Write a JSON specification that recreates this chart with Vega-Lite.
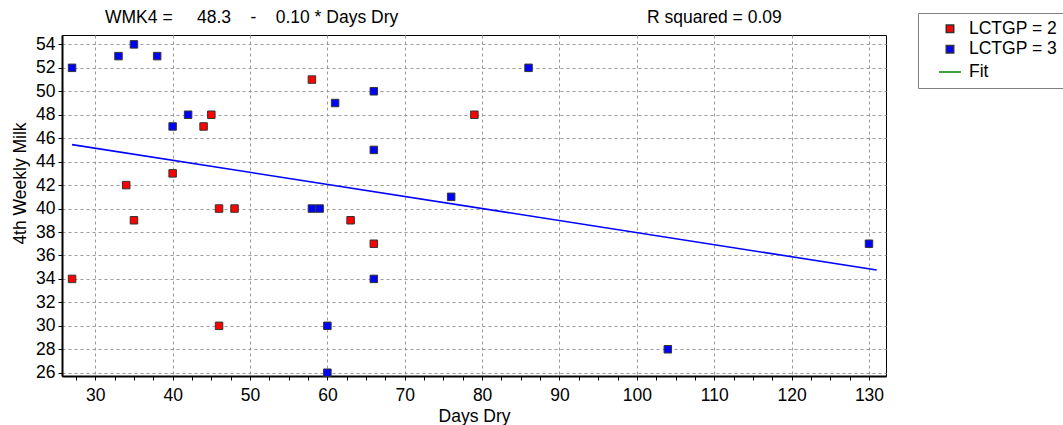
{
  "$schema": "https://vega.github.io/schema/vega-lite/v6.json",
  "autosize": "none",
  "width": 824,
  "height": 341,
  "padding": {"left": 62, "top": 35, "right": 177, "bottom": 49},
  "background": "white",
  "config": {
    "font": "Liberation Sans",
    "view": {"stroke": "black", "strokeWidth": 1},
    "axis": {
      "labelFont": "Liberation Sans",
      "titleFont": "Liberation Sans",
      "labelFontSize": 17.5,
      "titleFontSize": 17.5,
      "labelColor": "black",
      "titleColor": "black",
      "titleFontWeight": "normal",
      "domainColor": "black",
      "domainWidth": 2,
      "tickColor": "black",
      "tickSize": 4,
      "gridColor": "#9a9a9a",
      "gridDash": [3, 3],
      "gridWidth": 1,
      "labelOverlap": false,
      "tickCount": 60
    }
  },
  "datasets": {
    "cows": [
      {"days": 27, "milk": 34, "group": "LCTGP = 2"},
      {"days": 34, "milk": 42, "group": "LCTGP = 2"},
      {"days": 35, "milk": 39, "group": "LCTGP = 2"},
      {"days": 40, "milk": 43, "group": "LCTGP = 2"},
      {"days": 44, "milk": 47, "group": "LCTGP = 2"},
      {"days": 45, "milk": 48, "group": "LCTGP = 2"},
      {"days": 46, "milk": 40, "group": "LCTGP = 2"},
      {"days": 46, "milk": 30, "group": "LCTGP = 2"},
      {"days": 48, "milk": 40, "group": "LCTGP = 2"},
      {"days": 58, "milk": 51, "group": "LCTGP = 2"},
      {"days": 63, "milk": 39, "group": "LCTGP = 2"},
      {"days": 66, "milk": 37, "group": "LCTGP = 2"},
      {"days": 79, "milk": 48, "group": "LCTGP = 2"},
      {"days": 27, "milk": 52, "group": "LCTGP = 3"},
      {"days": 33, "milk": 53, "group": "LCTGP = 3"},
      {"days": 35, "milk": 54, "group": "LCTGP = 3"},
      {"days": 38, "milk": 53, "group": "LCTGP = 3"},
      {"days": 40, "milk": 47, "group": "LCTGP = 3"},
      {"days": 42, "milk": 48, "group": "LCTGP = 3"},
      {"days": 58, "milk": 40, "group": "LCTGP = 3"},
      {"days": 59, "milk": 40, "group": "LCTGP = 3"},
      {"days": 60, "milk": 30, "group": "LCTGP = 3"},
      {"days": 60, "milk": 26, "group": "LCTGP = 3"},
      {"days": 61, "milk": 49, "group": "LCTGP = 3"},
      {"days": 66, "milk": 50, "group": "LCTGP = 3"},
      {"days": 66, "milk": 45, "group": "LCTGP = 3"},
      {"days": 66, "milk": 34, "group": "LCTGP = 3"},
      {"days": 76, "milk": 41, "group": "LCTGP = 3"},
      {"days": 86, "milk": 52, "group": "LCTGP = 3"},
      {"days": 104, "milk": 28, "group": "LCTGP = 3"},
      {"days": 130, "milk": 37, "group": "LCTGP = 3"}
    ],
    "fit": [
      {"days": 27, "milk": 45.45},
      {"days": 131, "milk": 34.76}
    ]
  },
  "layer": [
    {
      "data": {"name": "fit"},
      "mark": {"type": "line", "color": "#0000ff", "strokeWidth": 1.6},
      "encoding": {
        "x": {"field": "days", "type": "quantitative"},
        "y": {"field": "milk", "type": "quantitative"}
      }
    },
    {
      "data": {"name": "cows"},
      "mark": {"type": "point", "filled": true, "opacity": 1, "strokeWidth": 1},
      "encoding": {
        "x": {
          "field": "days",
          "type": "quantitative",
          "title": "Days Dry",
          "scale": {"domain": [25.7, 132.2], "nice": false, "zero": false},
          "axis": {
            "values": [27.5, 30, 32.5, 35, 37.5, 40, 42.5, 45, 47.5, 50, 52.5, 55, 57.5, 60, 62.5, 65, 67.5, 70, 72.5, 75, 77.5, 80, 82.5, 85, 87.5, 90, 92.5, 95, 97.5, 100, 102.5, 105, 107.5, 110, 112.5, 115, 117.5, 120, 122.5, 125, 127.5, 130],
            "tickCount": 60,
            "format": "d",
            "labelExpr": "datum.value % 10 === 0 ? datum.label : ''",
            "gridOpacity": {"condition": {"test": "datum.value % 10 === 0", "value": 1}, "value": 0},
            "labelFontSize": 17.5,
            "titleFontSize": 17.5,
            "labelPadding": 6,
            "titlePadding": 4
          }
        },
        "y": {
          "field": "milk",
          "type": "quantitative",
          "title": "4th Weekly Milk",
          "scale": {"domain": [25.72, 54.8], "nice": false, "zero": false},
          "axis": {
            "values": [26, 28, 30, 32, 34, 36, 38, 40, 42, 44, 46, 48, 50, 52, 54],
            "tickCount": 60,
            "format": "d",
            "labelFontSize": 17.5,
            "titleFontSize": 17.5,
            "labelPadding": 3,
            "titleAngle": -90,
            "titleBaseline": "alphabetic",
            "titleAlign": "center",
            "titleX": -37,
            "titleY": 148
          }
        },
        "color": {
          "field": "group",
          "type": "nominal",
          "scale": {"domain": ["LCTGP = 2", "LCTGP = 3", "Fit"], "range": ["#ff0000", "#0000ff", "#008000"]},
          "legend": {
            "title": null,
            "orient": "none",
            "legendX": 856,
            "legendY": -22,
            "padding": 7,
            "rowPadding": 1.5,
            "symbolOffset": 13,
            "labelOffset": 7,
            "labelFont": "Liberation Sans",
            "labelFontSize": 17.5,
            "labelColor": "black",
            "strokeColor": "#808080",
            "fillColor": "white",
            "symbolStrokeWidth": 1.5,
            "symbolOpacity": 1
          }
        },
        "shape": {
          "field": "group",
          "type": "nominal",
          "scale": {"domain": ["LCTGP = 2", "LCTGP = 3", "Fit"], "range": ["square", "square", "stroke"]}
        },
        "size": {
          "field": "group",
          "type": "ordinal",
          "scale": {"type": "ordinal", "domain": ["LCTGP = 2", "LCTGP = 3", "Fit"], "range": [56, 56, 484]}
        },
        "stroke": {
          "field": "group",
          "type": "nominal",
          "scale": {"domain": ["LCTGP = 2", "LCTGP = 3", "Fit"], "range": ["#333333", "#333333", "#008000"]}
        }
      }
    },
    {
      "data": {"values": [{}]},
      "mark": {"type": "text", "font": "Liberation Sans", "fontSize": 17.5, "align": "left", "baseline": "alphabetic", "color": "black", "clip": false},
      "encoding": {
        "x": {"datum": 31.26, "type": "quantitative"},
        "y": {"datum": 55.85, "type": "quantitative"},
        "text": {"value": "WMK4 =\u00a0\u00a0\u00a0\u00a0\u00a048.3\u00a0\u00a0\u00a0\u00a0-\u00a0\u00a0\u00a0\u00a00.10 * Days Dry"}
      }
    },
    {
      "data": {"values": [{}]},
      "mark": {"type": "text", "font": "Liberation Sans", "fontSize": 17.5, "align": "center", "baseline": "alphabetic", "color": "black", "clip": false},
      "encoding": {
        "x": {"datum": 110.02, "type": "quantitative"},
        "y": {"datum": 55.85, "type": "quantitative"},
        "text": {"value": "R squared = 0.09"}
      }
    }
  ]
}
